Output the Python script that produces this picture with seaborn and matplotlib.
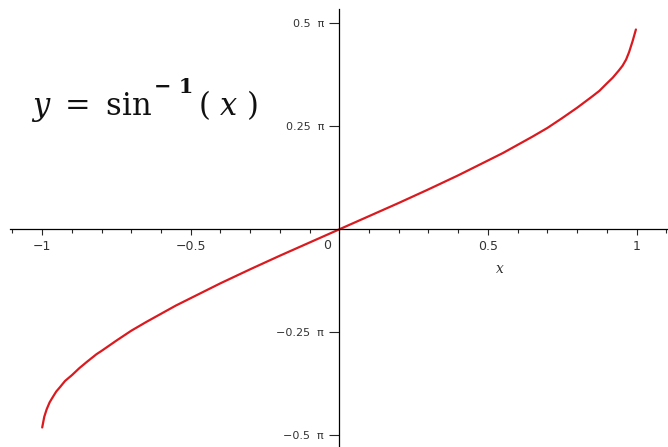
import numpy as np
import pandas as pd
import matplotlib
matplotlib.use("Agg")
import matplotlib.pyplot as plt
from matplotlib.ticker import FixedLocator, FixedFormatter
import seaborn as sns

# Sampled points of the inverse sine curve (y expressed in multiples of pi)
x_vals = [-1.0, -0.993, -0.985, -0.975, -0.965, -0.953, -0.94, -0.923, -0.9, -0.875,
          -0.85, -0.817, -0.8, -0.75, -0.7, -0.65, -0.6, -0.55, -0.5, -0.4,
          -0.3, -0.2, -0.1, 0.0, 0.1, 0.2, 0.3, 0.4, 0.5, 0.55,
          0.6, 0.65, 0.7, 0.75, 0.8, 0.85, 0.875, 0.9, 0.92, 0.94,
          0.953, 0.965, 0.975, 0.987, 0.998]
y_vals = [-0.481, -0.455, -0.437, -0.42, -0.408, -0.394, -0.383, -0.368, -0.354, -0.337,
          -0.322, -0.303, -0.295, -0.27, -0.246, -0.225, -0.205, -0.185, -0.167, -0.131,
          -0.097, -0.064, -0.032, 0.0, 0.032, 0.064, 0.097, 0.131, 0.167, 0.185,
          0.205, 0.225, 0.246, 0.27, 0.295, 0.322, 0.336, 0.354, 0.368, 0.385,
          0.397, 0.412, 0.43, 0.457, 0.485]

x_major = [-1, -0.5, 0.5, 1]
x_major_labels = ["\u22121", "\u22120.5", "0.5", "1"]
x_minor = [round(v, 1) for v in np.arange(-1.1, 1.11, 0.1)]
y_ticks = [-0.5, -0.25, 0.25, 0.5]
y_tick_labels = ["\u22120.5  \u03c0", "\u22120.25  \u03c0", "0.25  \u03c0", "0.5  \u03c0"]

sns.set_style("white")
plt.rcParams["font.family"] = ["DejaVu Sans"]
plt.rcParams["mathtext.fontset"] = "dejavuserif"

W, H = 668, 447
fig = plt.figure(figsize=(W / 100, H / 100), dpi=100)
ax = fig.add_axes([0, 0, 1, 1])
ax.set_facecolor("white")

df = pd.DataFrame({"x": x_vals, "y": y_vals})
sns.lineplot(data=df, x="x", y="y", ax=ax, color="#db1a1f", linewidth=1.6,
             sort=False, estimator=None)

ax.set_xlim(-1.142, 1.106)
ax.set_ylim(-0.5284, 0.5566)

# Axes crossing at the origin
for side in ("top", "right"):
    ax.spines[side].set_visible(False)
ax.spines["left"].set_position(("data", 0))
ax.spines["bottom"].set_position(("data", 0))
ax.spines["left"].set_bounds(-0.5284, 0.534)
ax.spines["bottom"].set_bounds(-1.11, 1.106)
for side in ("left", "bottom"):
    ax.spines[side].set_color("black")
    ax.spines[side].set_linewidth(0.9)

ax.xaxis.set_major_locator(FixedLocator(x_major))
ax.xaxis.set_major_formatter(FixedFormatter(x_major_labels))
ax.xaxis.set_minor_locator(FixedLocator(x_minor))
ax.yaxis.set_major_locator(FixedLocator(y_ticks))
ax.yaxis.set_major_formatter(FixedFormatter(y_tick_labels))

ax.tick_params(axis="x", which="major", direction="out", length=4.5, width=0.8,
               pad=3, labelsize=9, labelcolor="#333333", bottom=True)
ax.tick_params(axis="x", which="minor", direction="out", length=3, width=0.8,
               bottom=True)
ax.tick_params(axis="y", which="major", direction="out", length=7, width=0.8,
               pad=4, labelsize=8, labelcolor="#333333", left=True)

ax.annotate("0", xy=(0, 0), xytext=(-9, -12), textcoords="offset points",
            ha="center", va="center", fontsize=9, color="#333333")

ax.set_xlabel("x", fontsize=10, fontstyle="italic", family="DejaVu Serif",
              color="#333333")
ax.xaxis.set_label_coords(500 / W, 1 - 262 / H)
ax.set_ylabel("")

# Formula caption
fig.text(31 / W, 1 - 115 / H, r"$y\ =\ \mathrm{sin}$", fontsize=22, ha="left",
         va="baseline", color="#111111")
fig.text(154 / W, 1 - 93 / H, "\u2212 1", fontsize=15, ha="left", va="baseline",
         family="DejaVu Serif", fontweight="bold", color="#111111")
fig.text(198 / W, 1 - 115 / H, r"$(\ x\ )$", fontsize=22, ha="left",
         va="baseline", color="#111111")

fig.savefig("out.png", dpi=100, facecolor="white")
